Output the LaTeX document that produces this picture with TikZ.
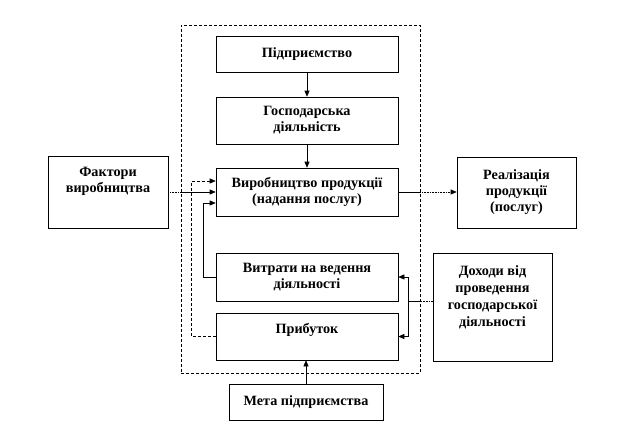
\documentclass[tikz,border=0pt]{standalone}
\usepackage{fontspec}
\setmainfont{Liberation Serif}
\usetikzlibrary{arrows.meta}
\begin{document}
\begin{tikzpicture}[x=1pt,y=-1pt,
  box/.style={draw=black,line width=0.6pt,fill=white,inner sep=0pt,align=center,
    font=\fontsize{14.2}{16}\selectfont\bfseries},
  txt/.style={inner sep=0pt,align=center,font=\fontsize{14.2}{16}\selectfont\bfseries},
  arr/.style={line width=0.6pt,-{Triangle[length=6pt,width=5pt]}},
  ln/.style={line width=0.6pt},
  dots/.style={line width=0.6pt,densely dotted},
  frm/.style={draw=black,line width=0.6pt,dash pattern=on 3pt off 2pt}]
\useasboundingbox (0,0) rectangle (621,432);
\node[frm,minimum width=239pt,minimum height=348pt] (frame) at (300.5,199) {};
\node[box,minimum width=182pt,minimum height=36pt] (pid) at (307,54) {Підприємство};
\node[box,minimum width=182pt,minimum height=47pt] (gosp) at (307,120.5) {Господарська\\діяльність};
\node[box,minimum width=182pt,minimum height=48pt] (vyr) at (307,192) {Виробництво продукції\\(надання послуг)};
\node[box,minimum width=182pt,minimum height=48pt] (vytr) at (307,277) {Витрати на ведення\\діяльності};
\node[box,minimum width=182pt,minimum height=47pt] (prib) at (307,336.5) {};
\node[txt] (pribT) at (307,330) {Прибуток};
\node[box,minimum width=154pt,minimum height=36pt] (meta) at (306,402) {Мета підприємства};
\node[box,minimum width=120pt,minimum height=72pt] (fakt) at (108,192) {};
\node[txt] (faktT) at (108,181) {Фактори\\виробництва};
\node[box,minimum width=119pt,minimum height=71pt] (real) at (516.5,192.5) {Реалізація\\продукції\\(послуг)};
\node[box,minimum width=119pt,minimum height=108pt] (doh) at (492.5,307) {};
\node[txt,font=\fontsize{14.2}{17}\selectfont\bfseries] (dohT) at (492.5,297) {Доходи від\\проведення\\господарської\\діяльності};
\coordinate (j) at (408,301);
% vertical chain
\draw[arr] (pid.south) -- (gosp.north);
\draw[arr] (gosp.south) -- (vyr.north);
\draw[arr] (meta.north) -- (meta.north |- prib.south);
% factors in
\draw[dots] (fakt.east) -- (fakt.east -| frame.west);
\draw[arr] (fakt.east -| frame.west) -- (vyr.west);
% realisation out
\draw[ln] (vyr.east) -- (vyr.east -| frame.east);
\draw[dots,-{Triangle[length=6pt,width=5pt]}] (vyr.east -| frame.east) -- (real.west |- vyr.east);
% revenues
\draw[dots] (doh.west |- j) -- (frame.east |- j);
\draw[ln] (frame.east |- j) -- (j);
\draw[arr] (j) |- (vytr.east);
\draw[arr] (j) |- (prib.east);
% feedback loops
\draw[arr,dash pattern=on 3pt off 2pt] (prib.west) -- ++(-24,0) |- ([yshift=11pt]vyr.west);
\draw[arr] (vytr.west) -- ++(-12,0) |- ([yshift=-11pt]vyr.west);
\end{tikzpicture}
\end{document}
